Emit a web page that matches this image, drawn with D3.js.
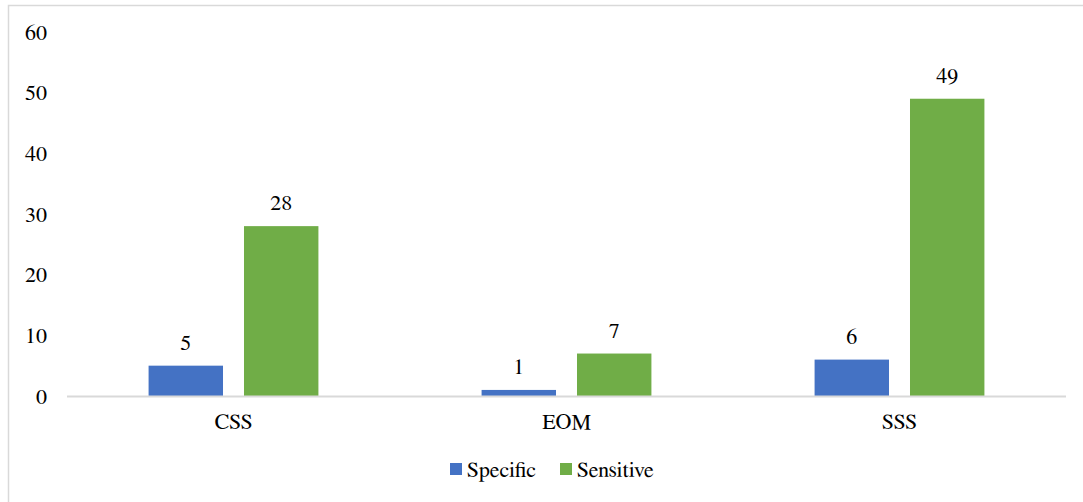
<!DOCTYPE html>
<html>
<head>
<meta charset="utf-8">
<script src="https://cdn.jsdelivr.net/npm/d3@7"></script>
<style>
  html, body { margin: 0; padding: 0; background: #fff; }
</style>
</head>
<body>
<svg id="chart" width="1083" height="502"></svg>
<script>
// Counts per category and series
const categories = ["CSS", "EOM", "SSS"];
const seriesNames = ["Specific", "Sensitive"];
const specificValues = [5, 1, 6];
const sensitiveValues = [28, 7, 49];
const yTicks = [0, 10, 20, 30, 40, 50, 60];
const colors = ["#4472C4", "#70AD47"];

// Times-style face used for every label
const FONT = "FreeSerif, 'Nimbus Roman', 'Noto Serif'";
const FS = 22;

const svg = d3.select("#chart");
const W = 1083, H = 502;

// Chart frame (left and top edges)
svg.append("path")
  .attr("d", `M8.5,${H} V5.5 H${W}`)
  .attr("fill", "none")
  .attr("stroke", "#d9d9d9")
  .attr("stroke-width", 1.5);

const plot = { left: 67, right: 1066, top: 32, bottom: 396 };

const x0 = d3.scaleBand()
  .domain(categories)
  .range([plot.left, plot.right])
  .paddingInner(0.49)
  .paddingOuter(0.245);

const x1 = d3.scaleBand()
  .domain(seriesNames)
  .range([0, x0.bandwidth()])
  .paddingInner(0.22);

const y = d3.scaleLinear().domain([0, 60]).range([plot.bottom, plot.top]);

// Y axis labels (no line, no ticks)
const yAxis = d3.axisLeft(y).tickValues(yTicks).tickSize(0).tickPadding(0);
const yg = svg.append("g").attr("transform", `translate(47,0)`).call(yAxis)
  .attr("font-family", FONT).attr("font-size", FS);
yg.select(".domain").remove();
yg.selectAll("text").attr("fill", "#000");

// Grouped bars
const rows = categories.map((c, i) => ({
  cat: c,
  vals: [specificValues[i], sensitiveValues[i]]
}));

const groups = svg.append("g").selectAll("g")
  .data(rows)
  .join("g")
  .attr("transform", d => `translate(${x0(d.cat)},0)`);

groups.selectAll("rect")
  .data(d => d.vals.map((v, j) => ({ name: seriesNames[j], v, j })))
  .join("rect")
  .attr("x", d => x1(d.name))
  .attr("y", d => y(d.v))
  .attr("width", x1.bandwidth())
  .attr("height", d => y(0) - y(d.v))
  .attr("fill", d => colors[d.j]);

// Value labels above each bar
groups.selectAll("text.val")
  .data(d => d.vals.map((v, j) => ({ name: seriesNames[j], v, j })))
  .join("text")
  .attr("class", "val")
  .attr("x", d => x1(d.name) + x1.bandwidth() / 2)
  .attr("y", d => y(d.v) - 16)
  .attr("text-anchor", "middle")
  .attr("font-family", FONT)
  .attr("font-size", FS)
  .attr("fill", "#000")
  .text(d => d.v);

// Category axis: baseline and labels
const xAxis = d3.axisBottom(x0).tickSize(0).tickPadding(0);
const xg = svg.append("g").attr("transform", `translate(0,${plot.bottom})`).call(xAxis)
  .attr("font-family", FONT).attr("font-size", FS);
xg.select(".domain")
  .attr("d", `M${plot.left},0.5H${plot.right}`)
  .attr("stroke", "#d9d9d9")
  .attr("stroke-width", 2);
xg.selectAll("text")
  .attr("fill", "#000")
  .attr("dy", null)
  .attr("y", 33);

// Legend
const legendItems = [
  { name: seriesNames[0], x: 450, color: colors[0] },
  { name: seriesNames[1], x: 560, color: colors[1] }
];
const legend = svg.append("g");
legend.selectAll("rect")
  .data(legendItems)
  .join("rect")
  .attr("x", d => d.x)
  .attr("y", 463)
  .attr("width", 12)
  .attr("height", 12)
  .attr("fill", d => d.color);
legend.selectAll("text")
  .data(legendItems)
  .join("text")
  .attr("x", d => d.x + 17)
  .attr("y", 477)
  .attr("font-family", FONT)
  .attr("font-size", FS)
  .attr("fill", "#000")
  .text(d => d.name);
</script>
</body>
</html>
